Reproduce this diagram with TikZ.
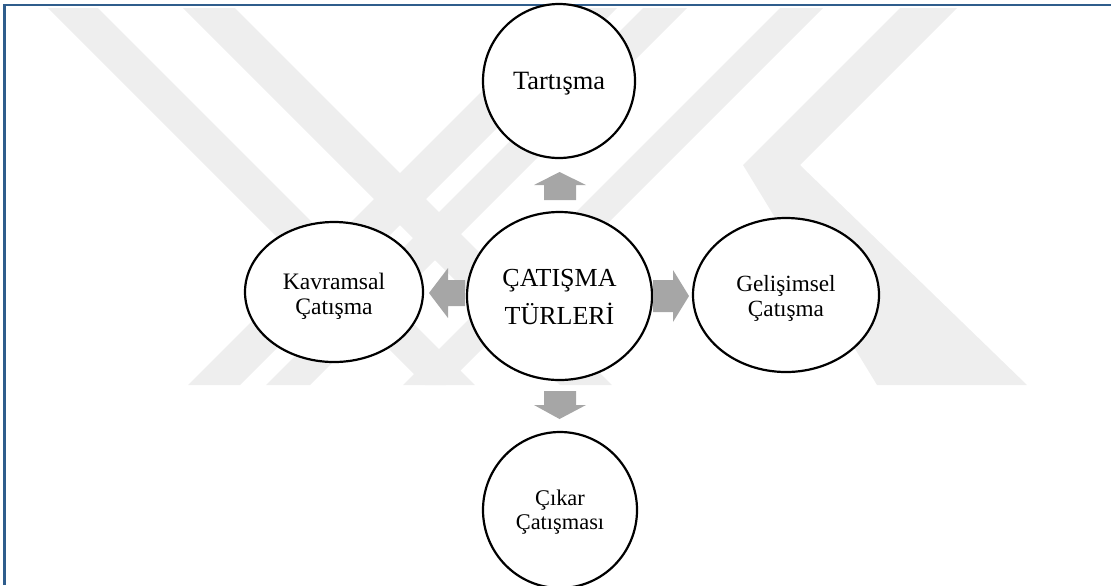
\documentclass[tikz,border=0pt]{standalone}
\usepackage{fontspec}
\setmainfont{Liberation Serif}
\usetikzlibrary{shapes.geometric}
\definecolor{framec}{RGB}{47,93,140}
\definecolor{arrowc}{RGB}{166,166,166}
\definecolor{wmark}{RGB}{238,238,238}
\begin{document}
\begin{tikzpicture}[x=0.5pt,y=-0.5pt,
  bubble/.style={draw=black, line width=1.1pt, fill=white, ellipse, inner sep=0pt, align=center},
  barrow/.style={fill=arrowc},
  wm/.style={fill=wmark}]
\useasboundingbox (0,0) rectangle (1111,585);
% watermark (approximate)
\fill[wm] (48,8) -- (98,8) -- (475,385) -- (425,385) -- cycle;
\fill[wm] (183,8) -- (235,8) -- (612,385) -- (560,385) -- cycle;
\fill[wm] (565,8) -- (617,8) -- (240,385) -- (188,385) -- cycle;
\fill[wm] (643,8) -- (687,8) -- (310,385) -- (266,385) -- cycle;
\fill[wm] (780,8) -- (823,8) -- (446,385) -- (403,385) -- cycle;
\fill[wm] (900,8) -- (957,8) -- (800,165) -- (743,165) -- cycle;
\fill[wm] (743,165) -- (800,165) -- (1027,385) -- (877,385) -- cycle;
% frame
\draw[framec, line width=1.25pt] (4.5,585) -- (4.5,5) -- (1111,5);
% nodes
\node[bubble, minimum width=92.5pt, minimum height=84pt] (c) at (559.5,296) {};
\node[bubble, minimum width=76pt, minimum height=77pt] (t) at (559,81) {};
\node[bubble, minimum width=89pt, minimum height=70pt] (k) at (334,292) {};
\node[bubble, minimum width=93pt, minimum height=77pt] (g) at (786,295) {};
\node[bubble, minimum width=77pt, minimum height=78pt] (ck) at (560,510) {};
\node[align=center, font=\fontsize{13}{19}\selectfont] (ct) at (559.5,297) {ÇATIŞMA\\TÜRLERİ};
\node[font=\fontsize{13.2}{15}\selectfont] (tt) at (559,84) {Tartışma};
\node[align=center, font=\fontsize{11.8}{12.5}\selectfont] (kt) at (334,296) {Kavramsal\\Çatışma};
\node[align=center, font=\fontsize{11.6}{12.5}\selectfont] (gt) at (786,298) {Gelişimsel\\Çatışma};
\node[align=center, font=\fontsize{11.2}{12}\selectfont] (ckt) at (560,512) {Çıkar\\Çatışması};
% block arrows
\fill[barrow] (544,200) -- (544,185) -- (534,185) -- (559.5,172) -- (586,185) -- (576,185) -- (576,200) -- cycle;
\fill[barrow] (544,391) -- (544,405) -- (534,405) -- (559.5,419) -- (586,405) -- (576,405) -- (576,391) -- cycle;
\fill[barrow] (653,280) -- (673,280) -- (673,270) -- (689,296) -- (673,322) -- (673,312) -- (653,312) -- cycle;
\fill[barrow] (465,280) -- (448,280) -- (448,268) -- (429,293) -- (448,318) -- (448,306) -- (465,306) -- cycle;
\end{tikzpicture}
\end{document}
